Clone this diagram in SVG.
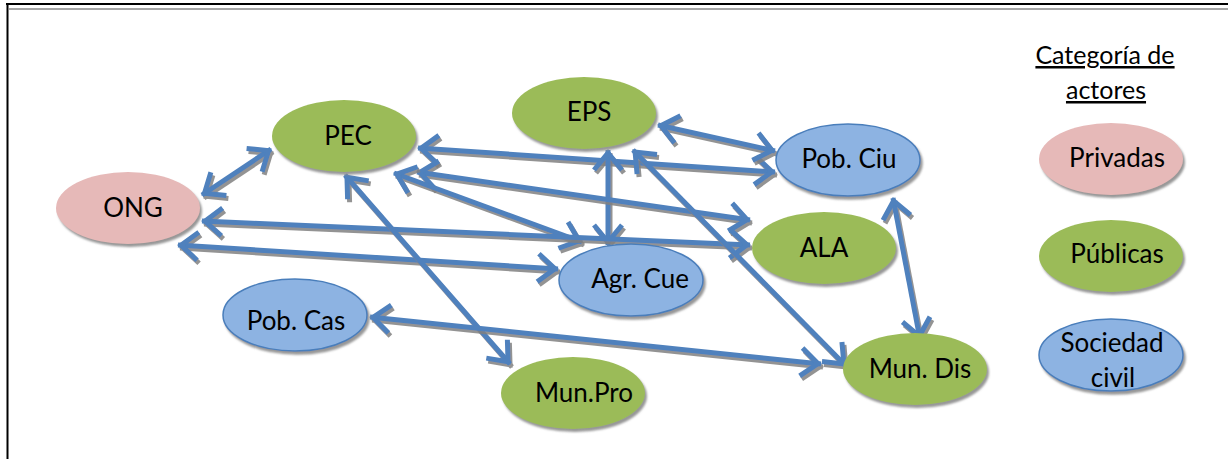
<svg xmlns="http://www.w3.org/2000/svg" width="1228" height="459" viewBox="0 0 1228 459">
<style>
  .t { font-family: Lato, "Liberation Sans", sans-serif; font-size: 26px; fill: #000; text-anchor: middle; }
  .lg { font-size: 25px; }
  .pub ellipse { fill: #9BBB59; }
  .priv ellipse { fill: #E6B9B8; }
  .civ ellipse { fill: #8DB3E2; stroke: #4A7EBB; stroke-width: 1.5; }
  .node ellipse { filter: url(#nsh); }
  .con path { fill: none; stroke: #4F81BD; stroke-width: 5; marker-start: url(#ah); marker-end: url(#ah); filter: url(#sh); }
</style>
<defs>
  <filter id="sh" filterUnits="userSpaceOnUse" x="0" y="0" width="1228" height="459">
    <feDropShadow dx="2" dy="3" stdDeviation="0.7" flood-color="#808080" flood-opacity="0.85"/>
  </filter>
  <filter id="nsh" filterUnits="userSpaceOnUse" x="0" y="0" width="1228" height="459">
    <feDropShadow dx="2" dy="3" stdDeviation="0.8" flood-color="#8c8c8c" flood-opacity="0.9"/>
  </filter>
  <marker id="ah" markerUnits="userSpaceOnUse" markerWidth="50" markerHeight="50" viewBox="-25 -25 50 50" refX="3" refY="0" orient="auto-start-reverse" overflow="visible">
    <path d="M-17,-14 L0,0 L-17,14" fill="none" stroke="#4F81BD" stroke-width="5"/>
  </marker>
</defs>
<rect x="0" y="0" width="1228" height="459" fill="#fff"/>
<g id="frame">
  <line x1="6" y1="4" x2="1228" y2="4" stroke="#000" stroke-width="2"/>
  <line x1="9" y1="9" x2="1228" y2="9" stroke="#a6a6a6" stroke-width="2"/>
  <line x1="7.5" y1="3" x2="7.5" y2="459" stroke="#000" stroke-width="2"/>
</g>
<g id="connectors" class="con">
  <path d="M202,195 L271,149"/>
  <path d="M418,148 L775,172"/>
  <path d="M658,125 L775,151"/>
  <path d="M608,150 L608,245"/>
  <path d="M417,172 L750,220"/>
  <path d="M394,173 L582,242"/>
  <path d="M202,221 L750,245"/>
  <path d="M178,245 L558,269"/>
  <path d="M345,175 L510,364"/>
  <path d="M370,317 L821,364"/>
  <path d="M633,150 L846,366"/>
  <path d="M893,198 L920,339"/>
</g>
<g id="node-ong" class="node priv"><ellipse cx="128" cy="208" rx="72" ry="36"/><text class="t" x="133" y="217">ONG</text></g>
<g id="node-pec" class="node pub"><ellipse cx="344" cy="136" rx="72" ry="36"/><text class="t" x="348" y="145">PEC</text></g>
<g id="node-eps" class="node pub"><ellipse cx="584" cy="113" rx="72" ry="36"/><text class="t" x="589" y="121">EPS</text></g>
<g id="node-pobciu" class="node civ"><ellipse cx="848" cy="160" rx="72" ry="36"/><text class="t" x="849" y="168">Pob. Ciu</text></g>
<g id="node-ala" class="node pub"><ellipse cx="824" cy="248" rx="72" ry="36"/><text class="t" x="824" y="257">ALA</text></g>
<g id="node-agrcue" class="node civ"><ellipse cx="631" cy="280" rx="72" ry="36"/><text class="t" x="640" y="288">Agr. Cue</text></g>
<g id="node-pobcas" class="node civ"><ellipse cx="295" cy="315" rx="72" ry="36"/><text class="t" x="296" y="330">Pob. Cas</text></g>
<g id="node-munpro" class="node pub"><ellipse cx="573" cy="393" rx="72" ry="36"/><text class="t" x="584" y="402">Mun.Pro</text></g>
<g id="node-mundis" class="node pub"><ellipse cx="915" cy="369" rx="72" ry="36"/><text class="t" x="920" y="378">Mun. Dis</text></g>
<g id="legend">
  <text class="t lg" x="1105" y="64" text-decoration="underline">Categoría de</text>
  <text class="t lg" x="1106" y="99" text-decoration="underline">actores</text>
  <g id="legend-privadas" class="node priv"><ellipse cx="1111" cy="159" rx="72" ry="36"/><text class="t" x="1117" y="167">Privadas</text></g>
  <g id="legend-publicas" class="node pub"><ellipse cx="1111" cy="256" rx="72" ry="36"/><text class="t" x="1117" y="263">Públicas</text></g>
  <g id="legend-sociedad" class="node civ"><ellipse cx="1111" cy="355" rx="72" ry="36"/><text class="t" x="1112" y="352">Sociedad</text><text class="t" x="1113" y="387">civil</text></g>
</g>
</svg>
